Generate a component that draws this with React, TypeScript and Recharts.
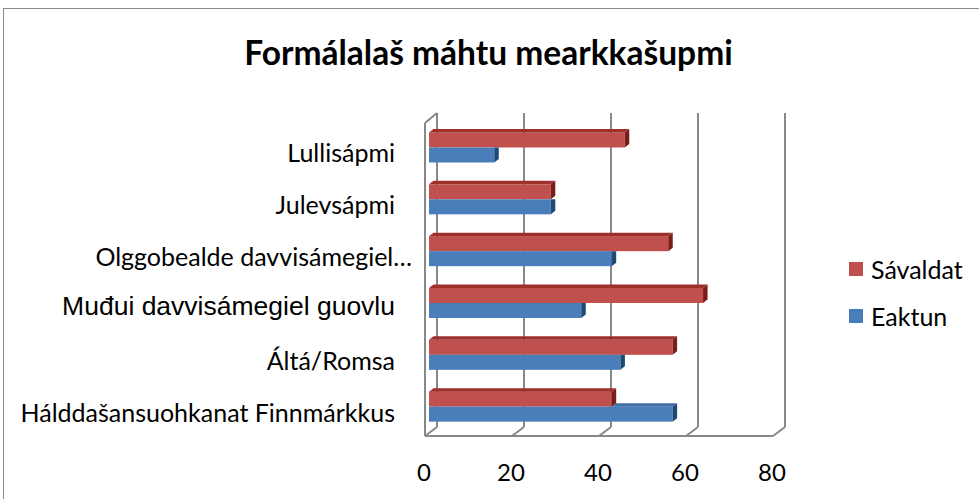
import * as Recharts from "recharts";
import { BarChart, Bar, XAxis, YAxis, CartesianGrid } from "recharts";

const categories = [
  "Lullisápmi",
  "Julevsápmi",
  "Olggobealde davvisámegiel…",
  "Muđui davvisámegiel guovlu",
  "Áltá/Romsa",
  "Hálddašansuohkanat Finnmárkkus",
];
const savaldat = [45, 28, 55, 63, 56, 42];
const eaktun = [15, 28, 42, 35, 44, 56];
const xTicks = [0, 20, 40, 60, 80];
const seriesNames = ["Sávaldat", "Eaktun"];
const title = "Formálalaš máhtu mearkkašupmi";

const data = categories.map((name, i) => ({
  name,
  savaldat: savaldat[i],
  eaktun: eaktun[i],
}));

const RED = "#C0504D";
const BLUE = "#4A7EBB";
const GRID = "#888888";
const LABEL_FONT = "Lato, 'Open Sans', sans-serif";

// fake 3D depth
const DH = 4.5;
const DV = 3.5;

function RedBar(props: any) {
  const { x, y, width, height } = props;
  if (!width) return null;
  return (
    <g>
      <rect x={x} y={y} width={width} height={height} fill={RED} />
      <polygon
        points={`${x},${y} ${x + DH},${y - DV} ${x + width + DH},${y - DV} ${x + width},${y}`}
        fill="#9D302D"
      />
      <polygon
        points={`${x + width},${y} ${x + width + DH},${y - DV} ${x + width + DH},${y + height - DV} ${x + width},${y + height}`}
        fill="#7A1C1A"
      />
    </g>
  );
}

function BlueBar(props: any) {
  const { x, y, width, height, payload } = props;
  if (!width) return null;
  // length of the red bar sitting on top of this one
  const rl = (width * payload.savaldat) / payload.eaktun;
  const longer = width > rl + 0.5;
  return (
    <g>
      <rect x={x} y={y} width={width} height={height} fill={BLUE} />
      {longer && (
        <polygon
          points={`${x + rl},${y} ${x + rl + DH},${y - DV} ${x + width + DH},${y - DV} ${x + width},${y}`}
          fill="#3F6FA8"
        />
      )}
      <polygon
        points={
          longer
            ? `${x + width},${y} ${x + width + DH},${y - DV} ${x + width + DH},${y + height - DV} ${x + width},${y + height}`
            : `${x + width},${y} ${x + width + DH},${y} ${x + width + DH},${y + height - DV} ${x + width},${y + height}`
        }
        fill="#1D4A75"
      />
    </g>
  );
}

// back wall gridlines + diagonals to the floor front edge
function GridLine(props: any) {
  const { x1, y1, y2 } = props;
  return (
    <g>
      <line x1={x1 + 8} y1={y1 - 8.5} x2={x1 + 8} y2={y2 - 5.5} stroke={GRID} strokeWidth={2} />
      <line x1={x1 + 8} y1={y2 - 5.5} x2={x1 - 4} y2={y2 + 3.5} stroke={GRID} strokeWidth={2} />
    </g>
  );
}

function Frame() {
  const R: any = Recharts;
  const area = R.usePlotArea ? R.usePlotArea() : null;
  if (!area) return null;
  const left = area.x - 4;
  const right = area.x + area.width - 4;
  const floor = area.y + area.height + 3.5;
  const top = area.y + 1.5;
  return (
    <g>
      <line x1={left} y1={floor} x2={right} y2={floor} stroke={GRID} strokeWidth={2} />
      <line x1={left} y1={top} x2={left} y2={floor} stroke={GRID} strokeWidth={2} />
      <line x1={left} y1={top} x2={area.x + 8} y2={area.y - 8.5} stroke={GRID} strokeWidth={2} />
    </g>
  );
}

function CategoryTick(props: any) {
  const { x, y, payload, index } = props;
  const arial = index === 3;
  // the truncated label spills a bit to the right, like in the original
  const spill = String(payload.value).endsWith("…") ? 17 : 0;
  return (
    <text
      x={x - 32 + spill}
      y={y + (arial ? 3 : 5)}
      textAnchor="end"
      dominantBaseline="central"
      fontFamily={arial ? "'Liberation Sans', Arial, sans-serif" : LABEL_FONT}
      fontSize={arial ? 26.5 : 25}
      fill="#000"
    >
      {payload.value}
    </text>
  );
}

function ValueTick(props: any) {
  const { x, y, payload } = props;
  return (
    <text
      x={x - 5}
      y={y + 37}
      textAnchor="middle"
      dominantBaseline="central"
      fontFamily={LABEL_FONT}
      fontSize={24}
      fill="#000"
    >
      {payload.value}
    </text>
  );
}

export default function App() {
  const colors = [RED, BLUE];
  return (
    <div
      style={{
        position: "absolute",
        left: 0,
        top: 0,
        width: 979,
        height: 499,
        background: "#fff",
        overflow: "hidden",
      }}
    >
      <div
        style={{
          position: "absolute",
          left: 3,
          top: 8,
          width: 1000,
          height: 600,
          border: "1.5px solid #8a8a8a",
        }}
      />
      <div style={{ position: "absolute", left: 0, top: 0 }}>
        <BarChart
          width={979}
          height={499}
          data={data}
          layout="vertical"
          margin={{ top: 121.5, right: 202, bottom: 0, left: 0 }}
          barGap={0}
          barSize={15}
        >
          <CartesianGrid horizontal={false} vertical={GridLine} />
          <XAxis
            type="number"
            domain={[0, 80]}
            ticks={xTicks}
            height={66.5}
            axisLine={false}
            tickLine={false}
            tickSize={0}
            tick={ValueTick}
            interval={0}
          />
          <YAxis
            type="category"
            dataKey="name"
            width={429}
            axisLine={false}
            tickLine={false}
            tickSize={0}
            tick={CategoryTick}
            interval={0}
          />
          <Bar dataKey="savaldat" name={seriesNames[0]} shape={RedBar} isAnimationActive={false} />
          <Bar dataKey="eaktun" name={seriesNames[1]} shape={BlueBar} isAnimationActive={false} />
          <Frame />
          <text
            x={488.5}
            y={65}
            textAnchor="middle"
            fontFamily={LABEL_FONT}
            fontWeight={700}
            fontSize={33.5}
            fill="#000"
          >
            {title}
          </text>
        </BarChart>
      </div>
      <div style={{ position: "absolute", left: 849, top: 254 }}>
        {seriesNames.map((n, i) => (
          <div
            key={n}
            style={{
              display: "flex",
              alignItems: "center",
              height: 30,
              marginBottom: 17,
              fontFamily: LABEL_FONT,
              fontSize: 25,
              color: "#000",
            }}
          >
            <span
              style={{
                display: "inline-block",
                width: 14,
                height: 14,
                background: colors[i],
                marginRight: 8,
              }}
            />
            {n}
          </div>
        ))}
      </div>
    </div>
  );
}
